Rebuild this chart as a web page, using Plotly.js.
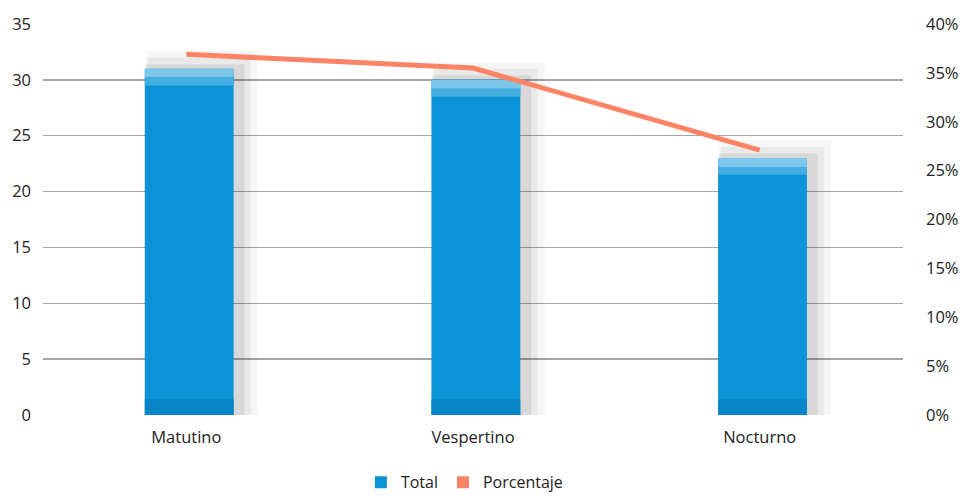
<!DOCTYPE html>
<html><head><meta charset="utf-8">
<script src="https://cdn.plot.ly/plotly-3.0.1.min.js"></script>
<style>body{margin:0;background:#fff}#c{width:972px;height:496px}</style>
</head><body><div id="c"></div>
<script>
const categories = ["Matutino", "Vespertino", "Nocturno"];
const totals = [31, 30, 23];
const porcentajes = [0.369, 0.355, 0.271];
const leftTicks = [0, 5, 10, 15, 20, 25, 30, 35];
const rightTicks = [0, 0.05, 0.10, 0.15, 0.20, 0.25, 0.30, 0.35, 0.40];
const rightTickLabels = ["0%", "5%", "10%", "15%", "20%", "25%", "30%", "35%", "40%"];

const blue = "#0a93d6";
const coral = "#ff8466";
const font = {family: "'Open Sans', sans-serif", size: 16.5, color: "#222"};

const shadowLayers = [
  {w: 0.385, off: -0.135, c: "rgba(0,0,0,0.035)", add: 1.6},
  {w: 0.365, off: -0.14, c: "rgba(0,0,0,0.05)", add: 1.0},
  {w: 0.345, off: -0.142, c: "rgba(0,0,0,0.07)", add: 0.4}
];
const traces = [];
shadowLayers.forEach(s => traces.push({
  type: "bar", x: categories, y: totals.map(v => v + s.add),
  width: s.w, offset: s.off, marker: {color: s.c, line: {width: 0}},
  showlegend: false, hoverinfo: "skip"
}));
traces.push({
  type: "bar", name: "Total", x: categories, y: totals,
  width: 0.31, offset: -0.145, marker: {color: blue, line: {width: 0}}
});
// top highlight strip
traces.push({
  type: "bar", x: categories, y: totals.map(() => 0.8), base: totals.map(v => v - 0.8),
  width: 0.31, offset: -0.145, marker: {color: "#7cc6ea", line: {width: 0}},
  showlegend: false, hoverinfo: "skip"
});
traces.push({
  type: "bar", x: categories, y: totals.map(() => 0.7), base: totals.map(v => v - 1.5),
  width: 0.31, offset: -0.145, marker: {color: "#45aee0", line: {width: 0}},
  showlegend: false, hoverinfo: "skip"
});
// bottom darker strip
traces.push({
  type: "bar", x: categories, y: totals.map(() => 1.4), base: totals.map(() => 0),
  width: 0.31, offset: -0.145, marker: {color: "#0785c7", line: {width: 0}},
  showlegend: false, hoverinfo: "skip"
});
traces.push({
  type: "scatter", mode: "lines", name: "Porcentaje", x: categories, y: porcentajes,
  yaxis: "y2", line: {color: coral, width: 5}, showlegend: false
});
// legend swatch for Porcentaje
traces.push({
  type: "bar", name: "Porcentaje", x: categories, y: [null, null, null],
  marker: {color: coral}, yaxis: "y2"
});

const layout = {
  width: 972, height: 496,
  margin: {l: 43, r: 69, t: 24, b: 81, autoexpand: false},
  paper_bgcolor: "#fff", plot_bgcolor: "#fff",
  font: font,
  barmode: "overlay",
  showlegend: true,
  legend: {orientation: "h", x: 0.49, xanchor: "center", y: -0.172, yanchor: "middle",
           font: {family: font.family, size: 16, color: "#222"}, itemwidth: 30,
           tracegroupgap: 0, traceorder: "normal"},
  xaxis: {type: "category", showgrid: false, zeroline: false, showline: false,
          ticks: "", ticklabelstandoff: 10, tickfont: font},
  yaxis: {range: [0, 35], tickvals: leftTicks, showgrid: true, gridcolor: "#a6a6a6", gridwidth: 1.3,
          zeroline: false, showline: false, ticks: "", ticklabelstandoff: 11, tickfont: font},
  yaxis2: {range: [0, 0.40], overlaying: "y", side: "right", tickvals: rightTicks,
           ticktext: rightTickLabels, showgrid: false, zeroline: false, showline: false,
           ticks: "", ticklabelstandoff: 22, tickfont: font}
};
Plotly.newPlot("c", traces, layout, {displayModeBar: false, staticPlot: true});
</script></body></html>
